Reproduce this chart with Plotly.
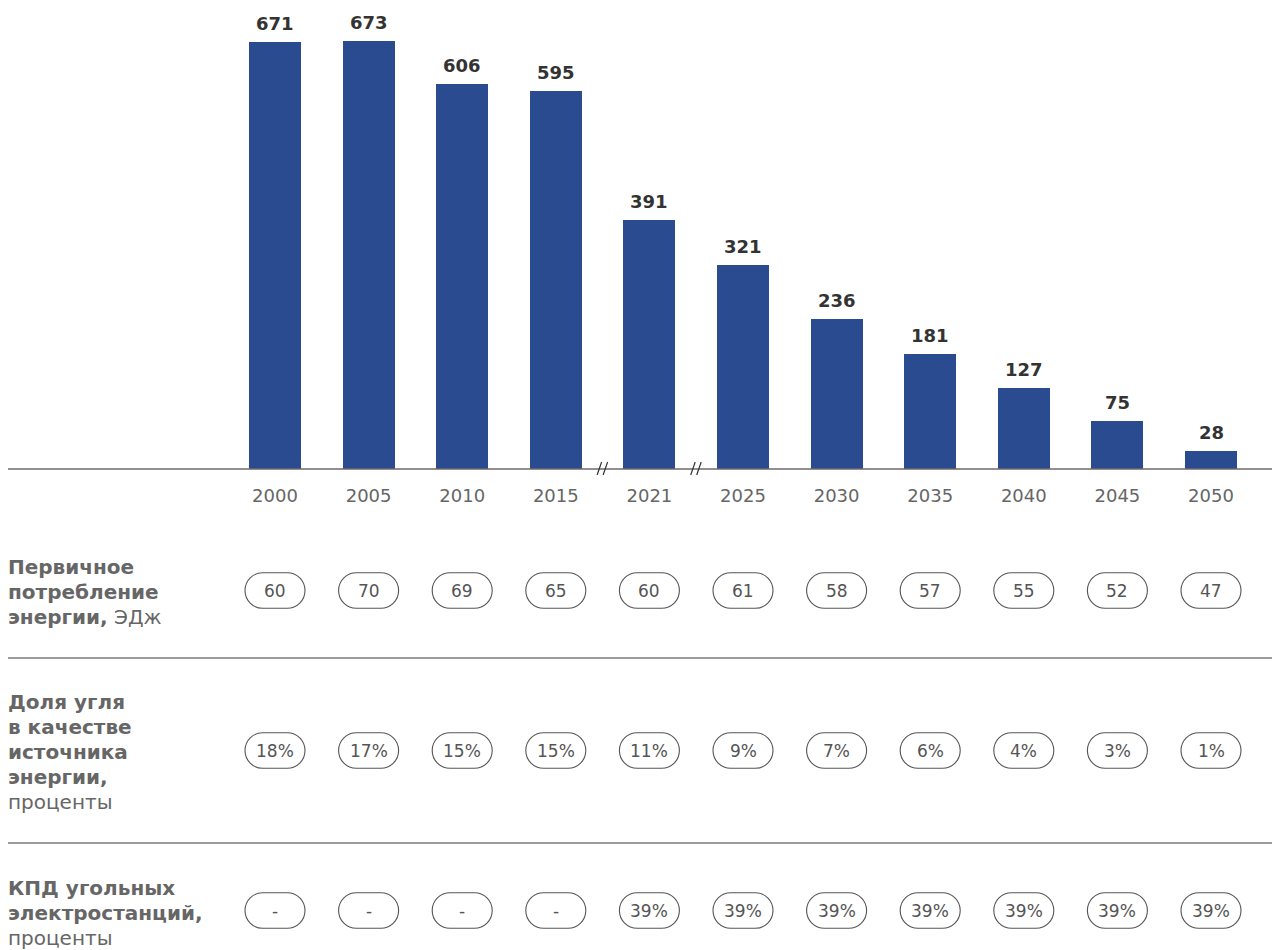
import plotly.graph_objects as go

# ---- data ----
years = ["2000", "2005", "2010", "2015", "2021", "2025", "2030", "2035", "2040", "2045", "2050"]
coal_values = [671, 673, 606, 595, 391, 321, 236, 181, 127, 75, 28]
primary_energy = ["60", "70", "69", "65", "60", "61", "58", "57", "55", "52", "47"]
coal_share = ["18%", "17%", "15%", "15%", "11%", "9%", "7%", "6%", "4%", "3%", "1%"]
plant_eff = ["-", "-", "-", "-", "39%", "39%", "39%", "39%", "39%", "39%", "39%"]
row_labels = [
    ["<b>Первичное</b>", "<b>потребление</b>", "<b>энергии,</b> ЭДж"],
    ["<b>Доля угля</b>", "<b>в качестве</b>", "<b>источника</b>", "<b>энергии,</b>", "проценты"],
    ["<b>КПД угольных</b>", "<b>электростанций,</b>", "проценты"],
]
break_after = [3, 4]  # axis breaks between 2015|2021 and 2021|2025

# ---- layout constants (pixels) ----
W, H = 1272, 950
FONT = "DejaVu Sans"
BAR_COLOR = "#2a4b8f"
X0_PX, DX_PX = 275.0, 93.6
BASE_PX = 469.0
PX_PER_UNIT = 0.636

def py(px):
    return 1 - px / H

x_left = -X0_PX / DX_PX
x_right = (W - X0_PX) / DX_PX
xs = list(range(len(years)))

fig = go.Figure()
fig.add_trace(go.Bar(
    x=xs, y=coal_values, width=52 / DX_PX,
    marker=dict(color=BAR_COLOR, line=dict(width=0)),
    hoverinfo="skip",
))

annotations = []
shapes = []

# bar value labels
for i, v in zip(xs, coal_values):
    annotations.append(dict(
        x=i, y=v, xref="x", yref="y", text=f"<b>{v}</b>", showarrow=False,
        yanchor="bottom", yshift=6, font=dict(family=FONT, size=18, color="#333333"),
    ))

# baseline
shapes.append(dict(type="line", xref="paper", yref="paper",
                   x0=8 / W, x1=1, y0=py(BASE_PX), y1=py(BASE_PX),
                   line=dict(color="#6f6a6a", width=1.5), layer="above"))

# axis break marks
for b in break_after:
    cx = b + 0.5
    for dx0, dx1 in [(-5.5, -1.0), (0.5, 5.0)]:
        shapes.append(dict(type="line", xref="x", yref="paper",
                           x0=cx + dx0 / DX_PX, x1=cx + dx1 / DX_PX,
                           y0=py(475), y1=py(462),
                           line=dict(color="#333333", width=1.2), layer="above"))

# table rows
row_centers = [590.5, 750.5, 910.5]
row_values = [primary_energy, coal_share, plant_eff]
label_tops = [567, 702, 888]
separators = [658, 843]

for sy in separators:
    shapes.append(dict(type="line", xref="paper", yref="paper",
                       x0=8 / W, x1=1, y0=py(sy), y1=py(sy),
                       line=dict(color="#7a7a7a", width=1.3)))

hw_px, r_px = 30.0, 17.8
k = 0.5523
for cy, vals in zip(row_centers, row_values):
    for i, t in zip(xs, vals):
        rx = r_px / DX_PX
        x0 = i - hw_px / DX_PX + rx
        x1 = i + hw_px / DX_PX - rx
        top, bot, mid = py(cy - r_px), py(cy + r_px), py(cy)
        ry = r_px / H
        path = (
            f"M {x0},{top} L {x1},{top} "
            f"C {x1 + k*rx},{top} {x1 + rx},{mid + k*ry} {x1 + rx},{mid} "
            f"C {x1 + rx},{mid - k*ry} {x1 + k*rx},{bot} {x1},{bot} "
            f"L {x0},{bot} "
            f"C {x0 - k*rx},{bot} {x0 - rx},{mid - k*ry} {x0 - rx},{mid} "
            f"C {x0 - rx},{mid + k*ry} {x0 - k*rx},{top} {x0},{top} Z"
        )
        shapes.append(dict(type="path", xref="x", yref="paper", path=path,
                           line=dict(color="#555555", width=1.1)))
        annotations.append(dict(
            x=i, y=mid, xref="x", yref="paper", text=t, showarrow=False,
            xanchor="center", yanchor="middle",
            font=dict(family=FONT, size=17, color="#555555"),
        ))

for top_px, lines in zip(label_tops, row_labels):
    for j, line in enumerate(lines):
        annotations.append(dict(
            x=6 / W, y=py(top_px + 25 * j), xref="paper", yref="paper",
            text=line, showarrow=False, xanchor="left", yanchor="middle", align="left",
            font=dict(family=FONT, size=20, color="#666666"),
        ))

y_top = BASE_PX / PX_PER_UNIT
fig.update_layout(
    width=W, height=H, margin=dict(l=0, r=0, t=0, b=0),
    paper_bgcolor="white", plot_bgcolor="white", showlegend=False,
    xaxis=dict(range=[x_left, x_right], domain=[0, 1], tickmode="array",
               tickvals=xs, ticktext=years, showgrid=False, zeroline=False,
               showline=False, ticks="outside", ticklen=10, tickcolor="rgba(0,0,0,0)",
               tickfont=dict(family=FONT, size=18, color="#666666"), fixedrange=True),
    yaxis=dict(range=[0, y_top], domain=[py(BASE_PX), 1], visible=False,
               showgrid=False, zeroline=False, fixedrange=True),
    annotations=annotations, shapes=shapes, bargap=0,
)

fig.write_html("out.html", config={"displayModeBar": False})
